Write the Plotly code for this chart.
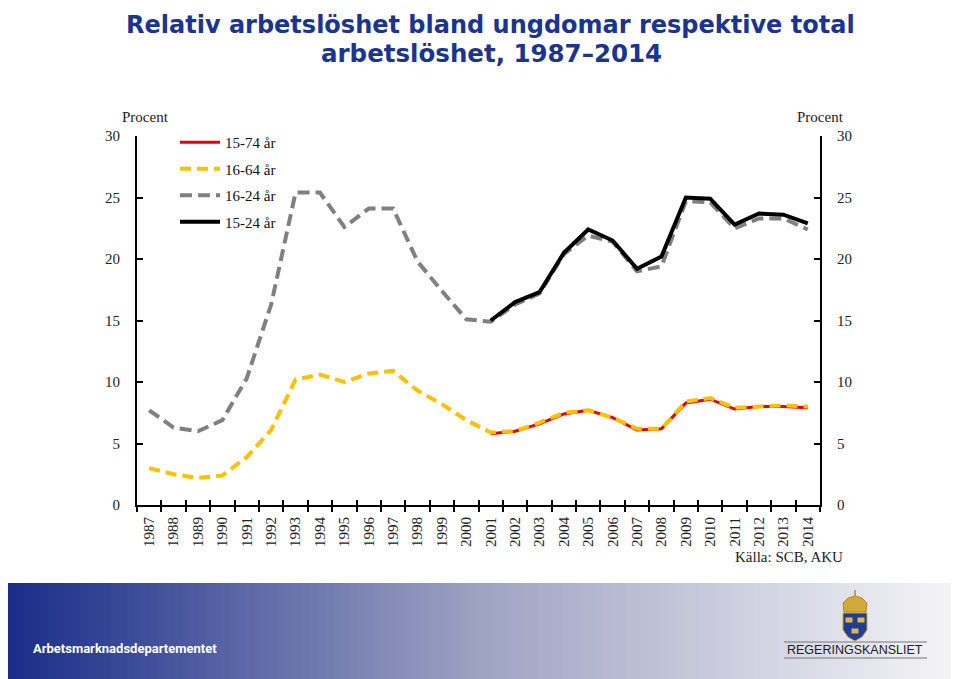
import plotly.graph_objects as go

years = [str(y) for y in range(1987, 2015)]

# 16-24 år (dashed grey), 1987-2014
age_16_24 = [7.7, 6.3, 6.0, 6.9, 10.3, 16.3, 25.4, 25.4, 22.6, 24.1, 24.1, 19.8, 17.4, 15.1,
             14.9, 16.3, 17.2, 20.4, 21.9, 21.4, 19.0, 19.4, 24.7, 24.6, 22.5, 23.3, 23.3, 22.4]
# 16-64 år (dashed yellow), 1987-2014
age_16_64 = [3.0, 2.5, 2.2, 2.4, 3.9, 6.1, 10.2, 10.6, 10.0, 10.7, 10.9, 9.3, 8.2, 6.9,
             5.9, 6.0, 6.7, 7.5, 7.7, 7.1, 6.2, 6.2, 8.4, 8.7, 7.9, 8.0, 8.1, 8.0]
# 15-74 år (red), 2001-2014
years_new = [str(y) for y in range(2001, 2015)]
age_15_74 = [5.8, 6.0, 6.6, 7.4, 7.7, 7.1, 6.1, 6.2, 8.3, 8.6, 7.8, 8.0, 8.0, 7.9]
# 15-24 år (black), 2001-2014
age_15_24 = [15.0, 16.5, 17.3, 20.5, 22.4, 21.5, 19.2, 20.2, 25.0, 24.9, 22.8, 23.7, 23.6, 22.9]

y_ticks = [0, 5, 10, 15, 20, 25, 30]

# page offset (body margin) compensation
OFF = 8
W, H = 959 - OFF, 679 - OFF
L, R, T, B = 137, 820, 136, 505  # in page pixels


def px(x):
    return (x - L) / (R - L)


def py(y):
    return (B - y) / (B - T)


SERIF = "Liberation Serif"
fig = go.Figure()

fig.add_trace(go.Scatter(x=years_new, y=age_15_74, name="15-74 år", mode="lines",
                         line=dict(color="#E3000F", width=3), legendgroup="a"))
fig.add_trace(go.Scatter(x=years, y=age_16_64, name="16-64 år", mode="lines",
                         line=dict(color="#FFC000", width=4, dash="11px,6px"), legendgroup="b"))
fig.add_trace(go.Scatter(x=years, y=age_16_24, name="16-24 år", mode="lines",
                         line=dict(color="#808080", width=4, dash="12px,6px"), legendgroup="c"))
fig.add_trace(go.Scatter(x=years_new, y=age_15_24, name="15-24 år", mode="lines",
                         line=dict(color="#000000", width=4), legendgroup="d"))
# helper traces for the secondary axes
fig.add_trace(go.Scatter(x=years, y=[None] * len(years), yaxis="y2", showlegend=False, hoverinfo="skip"))
fig.add_trace(go.Scatter(x=years, y=[None] * len(years), xaxis="x2", showlegend=False, hoverinfo="skip"))

axis_font = dict(family=SERIF, size=15, color="#222")

fig.update_layout(
    width=W, height=H,
    margin=dict(l=L - OFF, r=W - (R - OFF), t=T - OFF, b=H - (B - OFF), autoexpand=False),
    paper_bgcolor="white", plot_bgcolor="white",
    showlegend=True,
    legend=dict(x=px(175), y=py(126), xanchor="left", yanchor="top",
                font=dict(family=SERIF, size=15, color="#111"),
                traceorder="grouped", tracegroupgap=4, bgcolor="rgba(0,0,0,0)",
                itemwidth=40),
    xaxis=dict(type="category", categoryorder="array", categoryarray=years,
               range=[-0.5, 27.5], tickson="boundaries", ticks="outside", ticklen=5,
               tickwidth=2, tickcolor="black", showline=True, linecolor="black", linewidth=2,
               tickangle=-90, tickfont=axis_font, showgrid=False, zeroline=False,
               ticklabelstandoff=4),
    xaxis2=dict(type="category", categoryorder="array", categoryarray=years,
                range=[-0.5, 27.5], overlaying="x", anchor="y", side="bottom",
                tickson="boundaries", ticks="inside", ticklen=5, tickwidth=2,
                tickcolor="black", showticklabels=False, showgrid=False, zeroline=False),
    yaxis=dict(range=[0, 30], tickvals=y_ticks, ticks="inside", ticklen=6, tickwidth=2,
               tickcolor="black", showline=True, linecolor="black", linewidth=2,
               tickfont=axis_font, showgrid=False, zeroline=False, ticklabelstandoff=12),
    yaxis2=dict(range=[0, 30], tickvals=y_ticks, ticks="inside", ticklen=6, tickwidth=2,
                tickcolor="black", showline=True, linecolor="black", linewidth=2,
                overlaying="y", side="right", anchor="x",
                tickfont=axis_font, showgrid=False, zeroline=False, ticklabelstandoff=12),
)


def ann(text, x, y, xanchor="center", yanchor="middle", family=SERIF, size=15, color="#222"):
    return dict(text=text, x=px(x), y=py(y), xref="paper", yref="paper",
                xanchor=xanchor, yanchor=yanchor, showarrow=False,
                font=dict(family=family, size=size, color=color))


TITLE_C = "#1B348F"
TITLE_F = "DejaVu Sans"
annotations = [
    ann("<b>Relativ arbetslöshet bland ungdomar respektive total</b>", 490, 8.5,
        yanchor="top", family=TITLE_F, size=24, color=TITLE_C),
    ann("<b>arbetslöshet, 1987–2014</b>", 491, 53,
        family=TITLE_F, size=24.5, color=TITLE_C),
    ann("Procent", 145, 117),
    ann("Procent", 820, 117),
    ann("Källa: SCB, AKU", 845, 557, xanchor="right"),
    ann("<b>Arbetsmarknadsdepartementet</b>", 31, 648, xanchor="left",
        family="Roboto", size=13, color="white"),
    ann("REGERINGSKANSLIET", 855, 650, family="Liberation Sans", size=12.5, color="#222"),
]

shapes = []
# footer gradient band
n = 120
left = (27, 45, 138)
mid = (160, 164, 196)
right = (245, 245, 248)
for i in range(n):
    t = i / (n - 1)
    if t < 0.5:
        u = t / 0.5
        c = tuple(int(left[k] + (mid[k] - left[k]) * u) for k in range(3))
    else:
        u = (t - 0.5) / 0.5
        c = tuple(int(mid[k] + (right[k] - mid[k]) * u) for k in range(3))
    xa = OFF + (959 - OFF) * i / n
    xb = OFF + (959 - OFF) * (i + 1) / n + 1
    shapes.append(dict(type="rect", xref="paper", yref="paper", layer="below",
                       x0=px(xa), x1=px(xb), y0=py(679), y1=py(583),
                       fillcolor="rgb(%d,%d,%d)" % c, line=dict(width=0)))

# logo: lines
for yy in (642, 658):
    shapes.append(dict(type="line", xref="paper", yref="paper", x0=px(784), x1=px(927),
                       y0=py(yy), y1=py(yy), line=dict(color="#777", width=1)))


def pth(points):
    return "M " + " L ".join("%f,%f" % (px(a), py(b)) for a, b in points) + " Z"


shield = [(843, 613), (867, 613), (867, 630), (862, 637), (855, 641), (848, 637), (843, 630)]
shapes.append(dict(type="path", xref="paper", yref="paper", path=pth(shield),
                   fillcolor="#1F3C96", line=dict(color="#C9A233", width=1)))
crown = [(844, 612), (866, 612), (867, 603), (862, 598), (855, 596), (848, 598), (843, 603)]
shapes.append(dict(type="path", xref="paper", yref="paper", path=pth(crown),
                   fillcolor="#D2A93A", line=dict(color="#B48A25", width=1)))
shapes.append(dict(type="line", xref="paper", yref="paper", x0=px(855), x1=px(855),
                   y0=py(596), y1=py(590), line=dict(color="#C9A233", width=2)))
for cx, cy in ((849, 620), (861, 620), (855, 631)):
    shapes.append(dict(type="rect", xref="paper", yref="paper", x0=px(cx - 3.5),
                       x1=px(cx + 3.5), y0=py(cy + 2.5), y1=py(cy - 2.5),
                       fillcolor="#E0B84A", line=dict(width=0)))

fig.update_layout(annotations=annotations, shapes=shapes)

fig.write_html("out.html")
